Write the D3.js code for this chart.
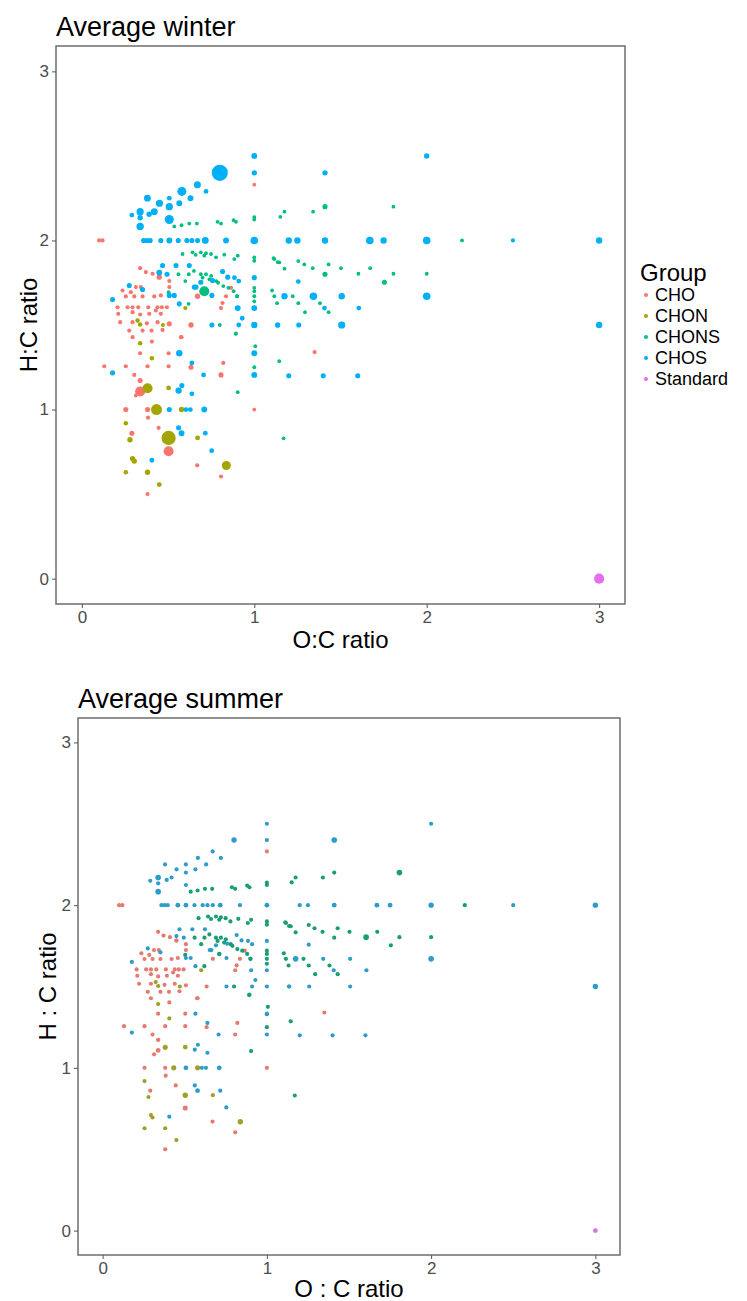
<!DOCTYPE html>
<html><head><meta charset="utf-8">
<script src="https://cdn.jsdelivr.net/npm/d3@7"></script>
<style>
body{margin:0;background:#fff;}
text{font-family:"Liberation Sans",Arial,sans-serif;}
</style></head>
<body><svg id="c" width="747" height="1301"></svg>
<script>
// ---- data: [O:C, H:C, winter abundance, summer abundance]
const groups = ["CHO","CHON","CHONS","CHOS","Standard"];
const groupColors = ["#F8766D","#A3A500","#00BF7D","#00B0F6","#E76BF3"];
const summerColors = ["#E57A70","#9FA02A","#199E74","#2E9CCB","#D874DE"];
const xTicks = [0,1,2,3];
const yTicks = [0,1,2,3];

const choPts = [
[0.10,2.00,6,6],[0.12,2.00,6,6],[1.00,2.33,5,6],
[0.338,1.836,6,6],[0.371,1.813,6,6],[0.41,1.803,6,6],[0.449,1.783,10,7],[0.507,1.76,6,6],[0.507,1.724,6,6],
[0.313,1.724,6,6],[0.342,1.724,6,6],[0.236,1.704,6,6],[0.284,1.694,6,6],[0.255,1.669,6,6],[0.304,1.669,6,6],
[0.352,1.669,6,6],[0.42,1.669,6,6],[0.458,1.675,6,6],[0.207,1.605,6,6],[0.265,1.605,6,6],[0.294,1.605,6,6],
[0.327,1.605,6,6],[0.385,1.605,6,6],[0.439,1.605,6,6],[0.464,1.605,6,6],[0.493,1.605,6,6],[0.211,1.566,6,6],
[0.294,1.576,6,6],[0.338,1.562,6,6],[0.391,1.566,6,6],[0.429,1.586,6,6],[0.458,1.566,6,6],[0.222,1.517,6,6],
[0.294,1.517,6,6],[0.377,1.51,6,6],[0.439,1.517,6,6],[0.507,1.507,9,6],[0.275,1.467,6,6],[0.352,1.467,6,6],
[0.404,1.467,6,6],[0.468,1.471,6,6],[0.575,1.428,6,6],[0.671,1.67,10,6],[0.633,1.50,10,6],[0.865,1.72,6,6],
[0.836,1.67,6,6],[0.816,1.63,6,6],[0.807,1.60,6,6],
[0.294,1.428,6,6],[0.406,1.402,6,6],[0.578,1.428,6,6],[0.338,1.333,6,6],[0.503,1.333,6,6],[0.13,1.256,6,6],
[0.255,1.256,6,6],[0.381,1.256,6,6],[0.503,1.256,6,6],[0.633,1.25,9,6],[0.82,1.276,6,6],[0.304,1.205,6,6],
[0.807,1.205,9,6],[0.338,1.172,9,7],[0.338,1.107,35,8],[0.313,1.083,5,6],[0.255,1.0,9,6],[0.381,1.0,9,6],
[1.0,1.0,5,6],[0.384,0.952,6,6],[0.445,0.892,6,6],[0.29,0.86,9,6],[0.503,0.753,35,9],[0.669,0.67,6,6],
[0.807,0.604,6,6],[0.381,0.5,6,6],[1.35,1.34,6,6]
];
const chonPts = [
[0.323,1.527,7,6],[0.338,1.503,7,6],[0.338,1.392,7,6],[0.406,1.304,7,6],[0.381,1.126,35,9],[0.503,1.128,8,8],
[0.433,1.0,42,9],[0.578,1.0,10,9],[0.255,0.919,7,6],[0.503,0.832,70,10],[0.279,0.821,10,6],[0.671,0.832,8,6],
[0.294,0.71,10,6],[0.304,0.695,10,6],[0.838,0.669,28,10],[0.255,0.629,7,6],[0.381,0.629,10,6],[0.449,0.556,8,6],
[0.60,1.60,6,6],[0.47,1.50,6,6]
];
const chonsPts = [
[0.536,2.083,5,6],[0.578,2.09,5,6],[0.623,2.10,5,6],[0.667,2.10,5,6],[0.787,2.11,5,6],[0.807,2.10,5,6],
[0.88,2.12,5,6],[0.894,2.11,5,6],[1.0,2.138,5,6],[1.0,2.124,5,6],[1.151,2.14,5,6],[1.175,2.17,5,6],
[1.341,2.17,5,6],[1.41,2.20,9,6],[1.807,2.20,5,11],
[0.584,1.92,5,6],[0.642,1.93,5,6],[0.69,1.93,5,6],[0.72,1.925,5,6],[0.749,1.92,5,6],[0.778,1.90,5,6],
[0.826,1.916,5,6],[0.884,1.89,5,6],[0.904,1.91,5,6],[1.0,1.90,5,6],[1.0,1.88,5,6],[1.116,1.89,5,6],
[1.145,1.87,5,6],[0.66,1.915,5,6],[0.71,1.91,5,6],
[0.62,1.80,5,6],[0.65,1.82,5,6],[0.69,1.80,5,6],[0.70,1.78,5,6],[0.72,1.80,5,6],[0.74,1.77,5,6],
[0.75,1.79,5,6],[0.78,1.76,5,6],[0.79,1.75,5,6],[0.82,1.73,5,6],[0.85,1.72,5,6],[0.88,1.70,5,6],
[0.90,1.67,5,6],[0.60,1.76,5,6],[0.56,1.80,5,6],[0.71,1.70,35,7],
[1.112,1.895,5,6],[1.135,1.872,5,6],[1.175,1.833,5,6],[1.255,1.878,5,6],[1.29,1.858,5,6],[1.339,1.836,5,6],
[1.431,1.858,5,6],[1.503,1.836,5,6],[1.672,1.836,5,6],[1.41,1.80,9,6],[1.604,1.803,5,11],[1.807,1.803,5,6],
[2.0,1.803,5,6],[1.755,1.753,9,6],[1.103,1.704,5,6],[1.116,1.67,5,6],[1.132,1.629,5,6],[1.255,1.629,5,6],
[1.294,1.576,5,6],[1.381,1.629,5,6],[1.431,1.576,5,6],[1.223,1.67,5,6],[0.80,1.50,5,6],[0.894,1.45,5,6],
[0.90,1.67,5,6],[1.0,1.72,5,6],[1.0,1.70,5,6],[1.0,1.67,5,6],[1.0,1.64,5,6],[0.892,1.448,5,6],
[1.006,1.375,5,6],[1.145,1.286,5,6],[0.904,1.103,5,6],[1.17,0.83,5,6],[2.205,2.0,5,6],[0.619,1.625,5,6],
[0.503,1.694,5,6],[1.0,1.25,5,6],[1.0,1.33,5,6]
];
const chosPts = [
[1.0,2.5,12,6],[1.0,2.4,10,6],[0.80,2.40,90,10],[0.67,2.33,17,6],[0.58,2.29,28,6],[0.72,2.29,8,6],
[0.63,2.25,12,6],[0.565,2.22,12,6],[0.507,2.25,8,6],[0.45,2.22,18,6],[0.38,2.25,16,6],[0.507,2.20,18,6],
[0.42,2.17,16,6],[0.338,2.17,18,11],[0.29,2.15,8,6],[0.39,2.155,10,6],[0.338,2.134,10,6],[0.507,2.124,28,6],
[0.338,2.083,19,11],[1.41,2.40,10,11],[2.0,2.5,10,6],
[0.358,2.0,9,6],[0.377,2.0,9,6],[0.396,2.0,9,6],[0.458,2.0,9,8],[0.507,2.0,12,8],[0.559,2.0,9,6],
[0.609,2.0,9,6],[0.638,2.0,9,6],[0.671,2.0,9,6],[0.716,2.0,16,8],[0.836,2.0,12,6],[1.0,2.0,20,8],
[1.2,2.0,14,6],[1.25,2.0,14,6],[1.41,2.0,14,8],[1.67,2.0,20,8],[1.75,2.0,14,8],[2.0,2.0,20,10],
[2.5,2.0,6,6],[3.0,2.0,14,10],
[0.468,1.852,9,6],[0.546,1.852,9,6],[0.623,1.852,9,6],[0.449,1.81,12,6],[0.494,1.80,9,6],[0.662,1.724,9,6],
[0.754,1.675,9,6],[1.0,1.78,9,6],[1.0,1.60,12,6],[1.0,1.50,14,6],[1.136,1.50,9,6],[0.904,1.60,12,6],
[0.93,1.54,8,6],[0.754,1.50,9,6],[0.91,1.50,8,6],[0.885,1.78,8,6],[0.91,1.76,8,6],[1.255,1.757,8,6],
[1.175,1.67,14,11],[1.343,1.67,20,6],[1.507,1.67,14,6],[2.0,1.67,20,11],[1.407,1.60,8,6],[1.606,1.60,8,6],
[1.135,1.50,9,6],[1.258,1.50,9,6],[1.507,1.50,18,6],[3.0,1.50,14,10],
[0.816,1.816,9,6],[0.846,1.783,9,6],[0.758,1.763,9,6],[0.69,1.753,9,6],[0.652,1.724,9,6],
[0.178,1.651,9,6],[0.275,1.734,9,6],[0.352,1.71,9,6],[0.507,1.675,9,6],[0.536,1.675,9,6],[0.565,1.625,9,6],
[1.0,1.333,12,6],[0.565,1.333,14,6],[0.178,1.217,9,6],[0.638,1.276,8,6],[0.706,1.205,8,6],[1.0,1.205,12,6],
[0.58,1.142,9,6],[0.561,1.112,14,6],[0.638,1.093,8,6],[0.507,1.0,9,8],[0.604,1.0,8,6],[0.629,1.0,8,6],
[0.71,1.0,12,8],[0.561,0.892,9,6],[0.578,0.86,12,8],[0.716,0.86,8,6],[0.753,0.757,8,6],[0.406,0.70,8,6],
[1.2,1.2,9,6],[1.4,1.2,9,6],[1.6,1.2,9,6]
];
const standardPts = [[3.0,0.0,35,8]];
const groupPts = [choPts, chonPts, chonsPts, chosPts, standardPts];

const panels = [
  {title:"Average winter", xTitle:"O:C ratio", yTitle:"H:C ratio", idx:2, x0:56, x1:625, y0:46, y1:604,
   yTitleX:29, xTitleY:648, legend:true, colors:groupColors},
  {title:"Average summer", xTitle:"O : C ratio", yTitle:"H : C ratio", idx:3, x0:78, x1:620, y0:718, y1:1255,
   yTitleX:48, xTitleY:1297, legend:false, colors:summerColors}
];

const svg = d3.select("#c");
svg.append("rect").attr("width",747).attr("height",1301).attr("fill","#fff");
const r = d3.scaleSqrt().domain([0,100]).range([0,8.5]);

panels.forEach(p => {
  const color = d3.scaleOrdinal().domain(groups).range(p.colors);
  const x = d3.scaleLinear().domain([-0.15,3.15]).range([p.x0,p.x1]);
  const y = d3.scaleLinear().domain([-0.15,3.15]).range([p.y1,p.y0]);
  const g = svg.append("g");

  const pts = [];
  groups.forEach((gr,i) => groupPts[i].forEach(d => pts.push({g:gr, oc:d[0], hc:d[1], a:d[p.idx]})));
  g.append("g").selectAll("circle").data(pts).join("circle")
    .attr("cx", d => x(d.oc)).attr("cy", d => y(d.hc)).attr("r", d => r(d.a))
    .attr("fill", d => color(d.g));

  g.append("rect").attr("x",p.x0).attr("y",p.y0).attr("width",p.x1-p.x0).attr("height",p.y1-p.y0)
    .attr("fill","none").attr("stroke","#6e6e6e").attr("stroke-width",1.5);

  const ax = g.append("g").attr("transform",`translate(0,${p.y1})`)
    .call(d3.axisBottom(x).tickValues(xTicks).tickSize(4).tickPadding(3).tickFormat(d3.format("d")));
  const ay = g.append("g").attr("transform",`translate(${p.x0},0)`)
    .call(d3.axisLeft(y).tickValues(yTicks).tickSize(4).tickPadding(3).tickFormat(d3.format("d")));
  [ax,ay].forEach(a => {
    a.select(".domain").remove();
    a.selectAll(".tick line").attr("stroke","#555");
    a.selectAll(".tick text").attr("fill","#4d4d4d").style("font-size","17px");
  });

  g.append("text").attr("x",p.x0).attr("y",p.y0-10).text(p.title)
    .style("font-size","27px").attr("fill","#000");
  g.append("text").attr("x",(p.x0+p.x1)/2).attr("y",p.xTitleY).attr("text-anchor","middle")
    .text(p.xTitle).style("font-size","24px").attr("fill","#000");
  g.append("text").attr("transform",`translate(${p.yTitleX},${(p.y0+p.y1)/2}) rotate(-90)`)
    .attr("text-anchor","middle").attr("dy","0.35em").text(p.yTitle).style("font-size","24px").attr("fill","#000");

  if (p.legend) {
    const lg = g.append("g").attr("transform","translate(640,0)");
    lg.append("text").attr("x",0).attr("y",281).text("Group").style("font-size","24px").attr("fill","#000");
    groups.forEach((gr,i) => {
      const cy = 295 + i*21;
      lg.append("circle").attr("cx",6).attr("cy",cy).attr("r",2).attr("fill",color(gr));
      lg.append("text").attr("x",15).attr("y",cy+6).text(gr).style("font-size","18px").attr("fill","#000");
    });
  }
});
</script></body></html>
